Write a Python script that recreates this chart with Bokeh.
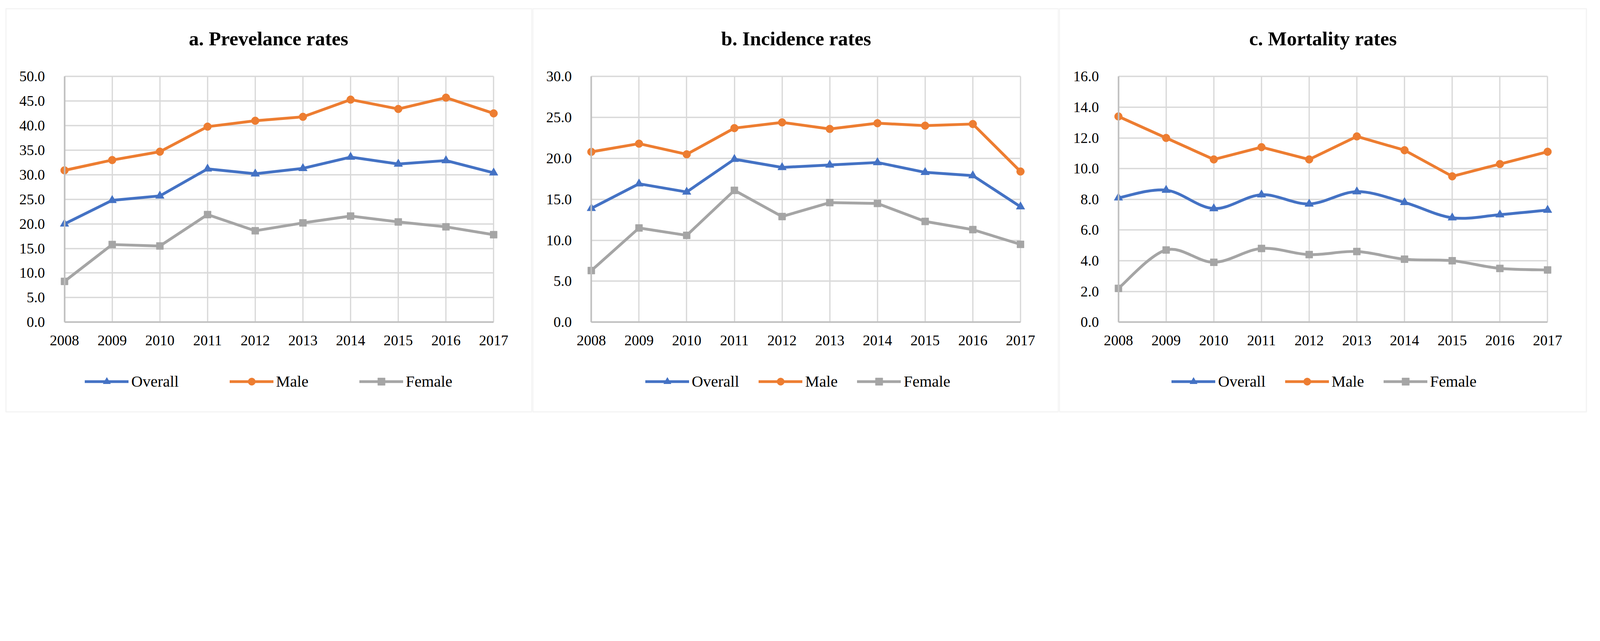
from bokeh.plotting import figure
from bokeh.layouts import row
from bokeh.models import (Range1d, FixedTicker, NumeralTickFormatter, Label, Grid,
                          LinearAxis, Legend, LegendItem, BoxAnnotation)
from bokeh.embed import file_html
from bokeh.resources import INLINE

# ---------------- data ----------------
years = [2008, 2009, 2010, 2011, 2012, 2013, 2014, 2015, 2016, 2017]

prev_overall = [20.0, 24.8, 25.7, 31.2, 30.2, 31.3, 33.6, 32.2, 32.9, 30.4]
prev_male    = [30.9, 33.0, 34.7, 39.8, 41.0, 41.8, 45.3, 43.4, 45.7, 42.5]
prev_female  = [8.3, 15.8, 15.5, 21.9, 18.6, 20.2, 21.6, 20.4, 19.4, 17.8]

inc_overall = [13.9, 16.9, 15.9, 19.9, 18.9, 19.2, 19.5, 18.3, 17.9, 14.1]
inc_male    = [20.8, 21.8, 20.5, 23.7, 24.4, 23.6, 24.3, 24.0, 24.2, 18.4]
inc_female  = [6.3, 11.5, 10.6, 16.1, 12.9, 14.6, 14.5, 12.3, 11.3, 9.5]

mort_overall = [8.1, 8.6, 7.4, 8.3, 7.7, 8.5, 7.8, 6.8, 7.0, 7.3]
mort_male    = [13.4, 12.0, 10.6, 11.4, 10.6, 12.1, 11.2, 9.5, 10.3, 11.1]
mort_female  = [2.2, 4.7, 3.9, 4.8, 4.4, 4.6, 4.1, 4.0, 3.5, 3.4]

prev_ticks = [0, 5, 10, 15, 20, 25, 30, 35, 40, 45, 50]
inc_ticks = [0, 5, 10, 15, 20, 25, 30]
mort_ticks = [0, 2, 4, 6, 8, 10, 12, 14, 16]

series_names = ["Overall", "Male", "Female"]
titles = ["a. Prevelance rates", "b. Incidence rates", "c. Mortality rates"]

# ---------------- geometry / style ----------------
S = 4096 / 6241          # css px per picture px
M = 8                    # page margin (css px)
H_CSS = 1061
W_CSS = [1362, 1348, 1370]

FONT = "Liberation Serif"
COLORS = ["#4472C4", "#ED7D31", "#A5A5A5"]
MARKERS = ["triangle", "circle", "square"]
MSIZES = [22, 20, 18]
GRID = "#D9D9D9"
AXIS = "#BFBFBF"

PLOT_TOP, PLOT_BOTTOM = 310, 1268   # picture px


def smooth_segments(xs, ys):
    n = len(xs)
    out = dict(x0=[], y0=[], x1=[], y1=[], cx0=[], cy0=[], cx1=[], cy1=[])
    for i in range(n - 1):
        a = i - 1 if i > 0 else i
        d = i + 2 if i + 2 < n else i + 1
        out["x0"].append(xs[i]); out["y0"].append(ys[i])
        out["x1"].append(xs[i + 1]); out["y1"].append(ys[i + 1])
        out["cx0"].append(xs[i] + (xs[i + 1] - xs[a]) / 6.0)
        out["cy0"].append(ys[i] + (ys[i + 1] - ys[a]) / 6.0)
        out["cx1"].append(xs[i + 1] - (xs[d] - xs[i]) / 6.0)
        out["cy1"].append(ys[i + 1] - (ys[d] - ys[i]) / 6.0)
    return out


def make_panel(idx, title, ticks, data, smooth, plot_l, plot_r, title_cx,
               legend_gx, legend_spacing, box_l, box_r):
    w = W_CSS[idx]
    fig_left = M / S + sum(W_CSS[:idx]) / S
    ymax = ticks[-1]
    x0, x1 = years[0], years[-1]
    step = (plot_r - plot_l) / (x1 - x0)

    def xd(px):
        return x0 + (px - plot_l) / step

    def yd(py):
        return ymax * (PLOT_BOTTOM - py) / (PLOT_BOTTOM - PLOT_TOP)

    p = figure(width=w, height=H_CSS,
               x_range=Range1d(xd(fig_left), xd(fig_left + w / S)),
               y_range=Range1d(yd(M / S + H_CSS / S), yd(M / S)),
               x_axis_type=None, y_axis_type=None, title=None,
               output_backend="svg", toolbar_location=None, min_border=0,
               background_fill_color="white", border_fill_color="white",
               outline_line_color=None)

    # grids
    gx = Grid(dimension=0, ticker=FixedTicker(ticks=years), grid_line_color=GRID,
              grid_line_width=5 * S)
    gy = Grid(dimension=1, ticker=FixedTicker(ticks=ticks), grid_line_color=GRID,
              grid_line_width=5 * S)
    if "cross_bounds" in Grid.properties():
        gx.cross_bounds = (0, ymax)
        gy.cross_bounds = (x0, x1)
        p.add_layout(gx)
        p.add_layout(gy)
    else:
        p.segment(x0=years, x1=years, y0=[0] * len(years), y1=[ymax] * len(years),
                  line_color=GRID, line_width=5 * S, level="underlay")
        p.segment(x0=[x0] * len(ticks), x1=[x1] * len(ticks), y0=ticks, y1=ticks,
                  line_color=GRID, line_width=5 * S, level="underlay")

    # axes at fixed locations
    xa = LinearAxis(ticker=FixedTicker(ticks=years), formatter=NumeralTickFormatter(format="0"),
                    fixed_location=0, bounds=(x0, x1))
    ya = LinearAxis(ticker=FixedTicker(ticks=ticks), formatter=NumeralTickFormatter(format="0.0"),
                    fixed_location=x0, bounds=(0, ymax))
    for ax in (xa, ya):
        ax.axis_line_color = AXIS
        ax.axis_line_width = 6 * S
        ax.major_tick_line_color = None
        ax.minor_tick_line_color = None
        ax.major_tick_in = 0
        ax.major_tick_out = 0
        ax.major_label_text_font = FONT
        ax.major_label_text_font_size = "37.5px"
        ax.major_label_text_color = "black"
    ya.major_label_standoff = 50
    xa.major_label_standoff = 34
    p.add_layout(xa, "below")
    p.add_layout(ya, "left")

    items = []
    for k, vals in enumerate(data):
        c = COLORS[k]
        if smooth[k]:
            seg = smooth_segments(years, vals)
            lr = p.bezier(x0=seg["x0"], y0=seg["y0"], x1=seg["x1"], y1=seg["y1"],
                          cx0=seg["cx0"], cy0=seg["cy0"], cx1=seg["cx1"], cy1=seg["cy1"],
                          line_color=c, line_width=11 * S, line_cap="round")
        else:
            lr = p.line(years, vals, line_color=c, line_width=11 * S, line_join="round",
                        line_cap="round")
        sr = p.scatter(years, vals, marker=MARKERS[k], size=MSIZES[k], fill_color=c,
                       line_color=c)
        items.append(LegendItem(label=series_names[k], renderers=[lr, sr]))

    lh = 47
    legend_center = (1500 - M / S) * S
    vy = H_CSS - lh - (legend_center - lh / 2)
    legend = Legend(items=items, location=((legend_gx - fig_left) * S, vy),
                    orientation="horizontal", spacing=legend_spacing, padding=0, margin=0,
                    glyph_width=112, glyph_height=lh, label_height=lh, label_standoff=7,
                    label_text_font=FONT, label_text_font_size="40.5px",
                    label_text_color="black",
                    border_line_color=None, background_fill_alpha=0)
    p.add_layout(legend)

    p.add_layout(Label(x=xd(title_cx), y=yd(162), text=title, text_font=FONT,
                       text_font_style="bold", text_font_size="51px",
                       text_align="center", text_baseline="middle", text_color="black"))

    p.add_layout(BoxAnnotation(left=xd(box_l), right=xd(box_r), top=yd(45.5), bottom=yd(1618),
                               fill_color=None, fill_alpha=0, line_color=GRID,
                               line_width=5 * S))
    return p


pa = make_panel(0, titles[0], prev_ticks, [prev_overall, prev_male, prev_female],
                [False, False, False], 263, 1937, 1059, 343, 130, 34.5, 2086)
pb = make_panel(1, titles[1], inc_ticks, [inc_overall, inc_male, inc_female],
                [False, False, False], 2318, 3992, 3117, 2529, 50, 2089.5, 4140)
pc = make_panel(2, titles[2], mort_ticks, [mort_overall, mort_male, mort_female],
                [True, False, True], 4374, 6048, 5172, 4582, 50, 4143.5, 6199.5)

layout = row(pa, pb, pc)
open("out.html", "w").write(file_html(layout, INLINE))
